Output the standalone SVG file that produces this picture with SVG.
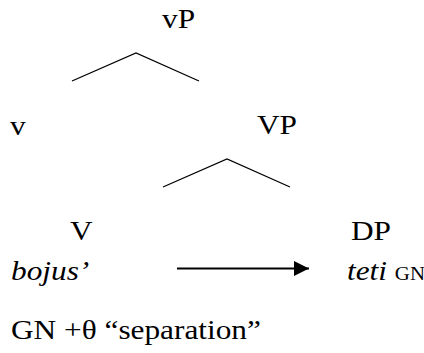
<svg xmlns="http://www.w3.org/2000/svg" width="424" height="353" viewBox="0 0 424 353">
<style>
text{font-family:"Liberation Serif","Times New Roman",Times,serif;font-size:27px;fill:#000}
.i{font-style:italic}
.s{font-size:18px}
.ln{stroke:#000;stroke-width:1.3;fill:none}
</style>
<defs>
<marker id="ah" markerWidth="16" markerHeight="16" refX="15" refY="7.5" orient="auto" markerUnits="userSpaceOnUse">
<path d="M0,0 L15,7.5 L0,15 Z" fill="#000"/>
</marker>
</defs>
<rect width="424" height="353" fill="#fff"/>
<g id="connectors">
<polyline class="ln" points="72,81 136,53 199,81"/>
<polyline class="ln" points="163,187 227,159 290,187"/>
<line x1="177" y1="268.5" x2="309" y2="268.5" stroke="#000" stroke-width="2" marker-end="url(#ah)"/>
</g>
<g id="vP"><text font-family="Liberation Serif, serif" transform="translate(162,28) scale(1.16,1)">vP</text></g>
<g id="v"><text font-family="Liberation Serif, serif" transform="translate(10,135) scale(1.16,1)">v</text></g>
<g id="VP"><text font-family="Liberation Serif, serif" transform="translate(257,134) scale(1.16,1)">VP</text></g>
<g id="V"><text font-family="Liberation Serif, serif" transform="translate(70,240) scale(1.16,1)">V</text></g>
<g id="DP"><text font-family="Liberation Serif, serif" transform="translate(351,240) scale(1.16,1)">DP</text></g>
<g id="bojus"><text class="i" font-family="Liberation Serif, serif" transform="translate(11,280) scale(1.16,1)">bojus’</text></g>
<g id="teti"><text font-family="Liberation Serif, serif" transform="translate(347,280) scale(1.16,1)"><tspan class="i">teti</tspan> <tspan class="s">GN</tspan></text></g>
<g id="note"><text font-family="Liberation Serif, serif" transform="translate(11,339) scale(1.16,1)">GN +θ “separation”</text></g>
</svg>
